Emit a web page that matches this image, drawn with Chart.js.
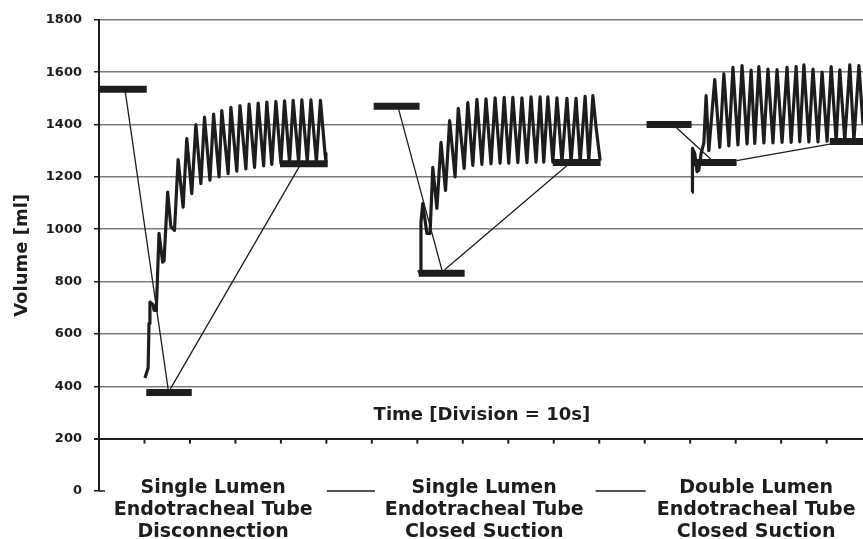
<!DOCTYPE html>
<html><head><meta charset="utf-8">
<script src="https://cdn.jsdelivr.net/npm/chart.js@4/dist/chart.umd.min.js"></script>
<style>html,body{margin:0;padding:0;background:#fff;}#wrap{width:863px;height:539px;}</style>
</head><body><div id="wrap"><canvas id="c" width="863" height="539"></canvas></div>
<script>
// ---- data (time in seconds, volume in ml) ----
const yTickValues = [0,200,400,600,800,1000,1200,1400,1600,1800];
const categories = [
  ["Single Lumen","Endotracheal Tube","Disconnection"],
  ["Single Lumen","Endotracheal Tube","Closed Suction"],
  ["Double Lumen","Endotracheal Tube","Closed Suction"]
];
const categoryCenters = [25.1, 84.7, 144.5];
const timeLabel = "Time [Division = 10s]";
const timeLabelAt = [84.2, 272];

const seg1Time = [10.1,10.8,11.0,11.2,11.9,12.1,12.6,13.2,14.0,14.3,15.1,15.8,16.6,17.4,18.5,19.3,20.4,21.3,22.4,23.2,24.4,25.2,26.4,27.0,28.4,29.0,30.3,31.0,32.3,33.0,34.2,35.0,36.2,36.9,38.0,38.9,40.0,40.8,41.9,42.7,43.9,44.6,45.8,46.6,47.8,48.7,49.7,49.9];
const seg1Vol  = [432,470,640,722,712,690,690,984,874,880,1142,1010,996,1266,1084,1346,1136,1400,1174,1428,1187,1440,1200,1453,1212,1466,1222,1472,1230,1478,1236,1482,1242,1486,1248,1488,1252,1490,1254,1492,1256,1494,1258,1494,1258,1492,1290,1260];

const seg2Time = [70.1,70.6,70.8,71.2,72.1,72.8,73.4,74.3,75.2,76.2,77.1,78.3,79.0,80.3,81.1,82.2,83.1,84.2,85.1,86.2,87.1,88.2,89.1,90.1,91.0,92.1,93.0,94.1,95.0,96.1,97.0,97.8,98.7,99.8,100.7,101.8,102.9,103.8,104.9,105.8,106.9,107.7,108.6,109.3,110.2];
const seg2Vol  = [836,840,1026,1098,984,984,1236,1080,1332,1148,1415,1200,1462,1232,1484,1244,1496,1248,1498,1250,1502,1252,1504,1252,1504,1254,1502,1254,1506,1256,1506,1256,1506,1256,1502,1256,1500,1256,1500,1256,1508,1258,1510,1390,1262];

const seg3Time = [130.4,130.5,131.0,131.5,131.9,132.4,133.0,133.5,134.1,135.4,136.5,137.4,138.5,139.4,140.5,141.4,142.5,143.4,144.2,145.1,146.2,147.1,148.2,149.1,150.2,151.3,152.2,153.3,154.1,155.0,156.1,157.0,158.1,159.0,160.1,161.0,162.1,162.9,164.0,165.1,166.0,167.1,168.0];
const seg3Vol  = [1141,1309,1290,1220,1225,1290,1330,1510,1300,1572,1313,1594,1318,1618,1322,1625,1326,1608,1328,1621,1330,1612,1330,1610,1332,1618,1332,1621,1334,1628,1334,1612,1334,1600,1336,1621,1336,1609,1338,1628,1338,1625,1400];

// mean-volume bars
const meanStart = [0.2, 10.4, 39.8, 60.4, 70.3, 99.8, 120.4, 130.5, 160.7];
const meanEnd   = [10.5, 20.4, 50.3, 70.5, 80.4, 110.3, 130.3, 140.2, 168.0];
const meanVol   = [1535, 376, 1250, 1470, 832, 1255, 1400, 1255, 1335];

// connector lines
const linkFromT = [5.7, 15.7, 65.7, 76.0, 126.2, 140.2];
const linkFromV = [1535, 390, 1470, 845, 1400, 1262];
const linkToT   = [15.2, 44.8, 75.4, 104.6, 134.5, 160.7];
const linkToV   = [390, 1262, 845, 1268, 1268, 1325];

// short baseline dashes at 0 ml
const dashStart = [0, 50.1, 109.2];
const dashEnd   = [1.3, 60.7, 120.2];

// ---- build datasets ----
const FONT = "'DejaVu Sans', sans-serif";
const INK = '#1e1c1d';
function trace(ts, vs){ return ts.map((t,i)=>({x:t,y:vs[i]})); }
function segs(a, av, b, bv){
  const out=[];
  a.forEach((s,i)=>{ out.push({x:s,y:av[i]}); out.push({x:b[i],y:bv[i]}); out.push({x:b[i],y:null}); });
  return out;
}
const barsData = segs(meanStart, meanVol, meanEnd, meanVol);
const linkData = segs(linkFromT, linkFromV, linkToT, linkToV);
const dashData = segs(dashStart, dashStart.map(()=>0), dashEnd, dashEnd.map(()=>0));

const common = {pointRadius:0, tension:0, fill:false, spanGaps:false};
const datasets = [
  Object.assign({label:'mean', data:barsData, borderColor:INK, borderWidth:7, borderCapStyle:'butt'}, common),
  Object.assign({label:'link', data:linkData, borderColor:INK, borderWidth:1.3}, common),
  Object.assign({label:'dash', data:dashData, borderColor:INK, borderWidth:1.5, clip:false}, common),
  Object.assign({label:'seg1', data:trace(seg1Time, seg1Vol), borderColor:INK, borderWidth:3.2, borderJoinStyle:'round'}, common),
  Object.assign({label:'seg2', data:trace(seg2Time, seg2Vol), borderColor:INK, borderWidth:3.2, borderJoinStyle:'round'}, common),
  Object.assign({label:'seg3', data:trace(seg3Time, seg3Vol), borderColor:INK, borderWidth:3.2, borderJoinStyle:'round'}, common)
];

const annot = {
  id:'annot',
  afterDraw(chart){
    const ctx = chart.ctx, xs = chart.scales.x, ys = chart.scales.y;
    const yAxis = ys.getPixelForValue(200);
    ctx.save();
    ctx.strokeStyle = INK; ctx.lineWidth = 2;
    xs.ticks.forEach(tk=>{
      if (tk.value <= 0 || tk.value % 10 !== 0) return;
      const px = xs.getPixelForValue(tk.value);
      ctx.beginPath(); ctx.moveTo(px, yAxis); ctx.lineTo(px, yAxis+5); ctx.stroke();
    });
    ctx.fillStyle = INK;
    ctx.textAlign = 'center'; ctx.textBaseline = 'alphabetic';
    ctx.font = "bold 18px " + FONT;
    ctx.fillText(timeLabel, xs.getPixelForValue(timeLabelAt[0]), ys.getPixelForValue(timeLabelAt[1]));
    ctx.font = "bold 19px " + FONT;
    const base = ys.getPixelForValue(0);
    categories.forEach((lines, i)=>{
      const cx = xs.getPixelForValue(categoryCenters[i]);
      lines.forEach((ln, j)=>{ ctx.fillText(ln, cx, base + 2 + j*22); });
    });
    ctx.restore();
  }
};

new Chart(document.getElementById('c'), {
  type:'line',
  data:{datasets},
  options:{
    responsive:false, animation:false, devicePixelRatio:1,
    layout:{padding:{top:19, right:0, bottom:40, left:0}},
    plugins:{legend:{display:false}, tooltip:{enabled:false}},
    scales:{
      x:{type:'linear', min:0, max:168,
         ticks:{stepSize:10, display:false},
         grid:{display:false}, border:{display:false}},
      y:{type:'linear', min:0, max:1800,
         afterBuildTicks:(s)=>{ s.ticks = yTickValues.map(v=>({value:v})); },
         afterFit:(s)=>{ s.width = 99; },
         ticks:{font:{family:FONT, weight:'bold', size:13}, color:INK, padding:12, callback:(v)=>String(v)},
         grid:{
           color:(c)=> c.tick && c.tick.value===200 ? INK : (c.tick && c.tick.value===0 ? 'rgba(0,0,0,0)' : '#7b7b7b'),
           lineWidth:(c)=> c.tick && c.tick.value===200 ? 2 : 1.5,
           tickColor:INK, tickLength:5, drawTicks:true
         },
         border:{display:true, color:INK, width:2},
         title:{display:true, text:'Volume [ml]', color:INK, font:{family:FONT, weight:'bold', size:18}, padding:{top:12, bottom:0}}
      }
    }
  },
  plugins:[annot]
});
</script>
</body></html>
